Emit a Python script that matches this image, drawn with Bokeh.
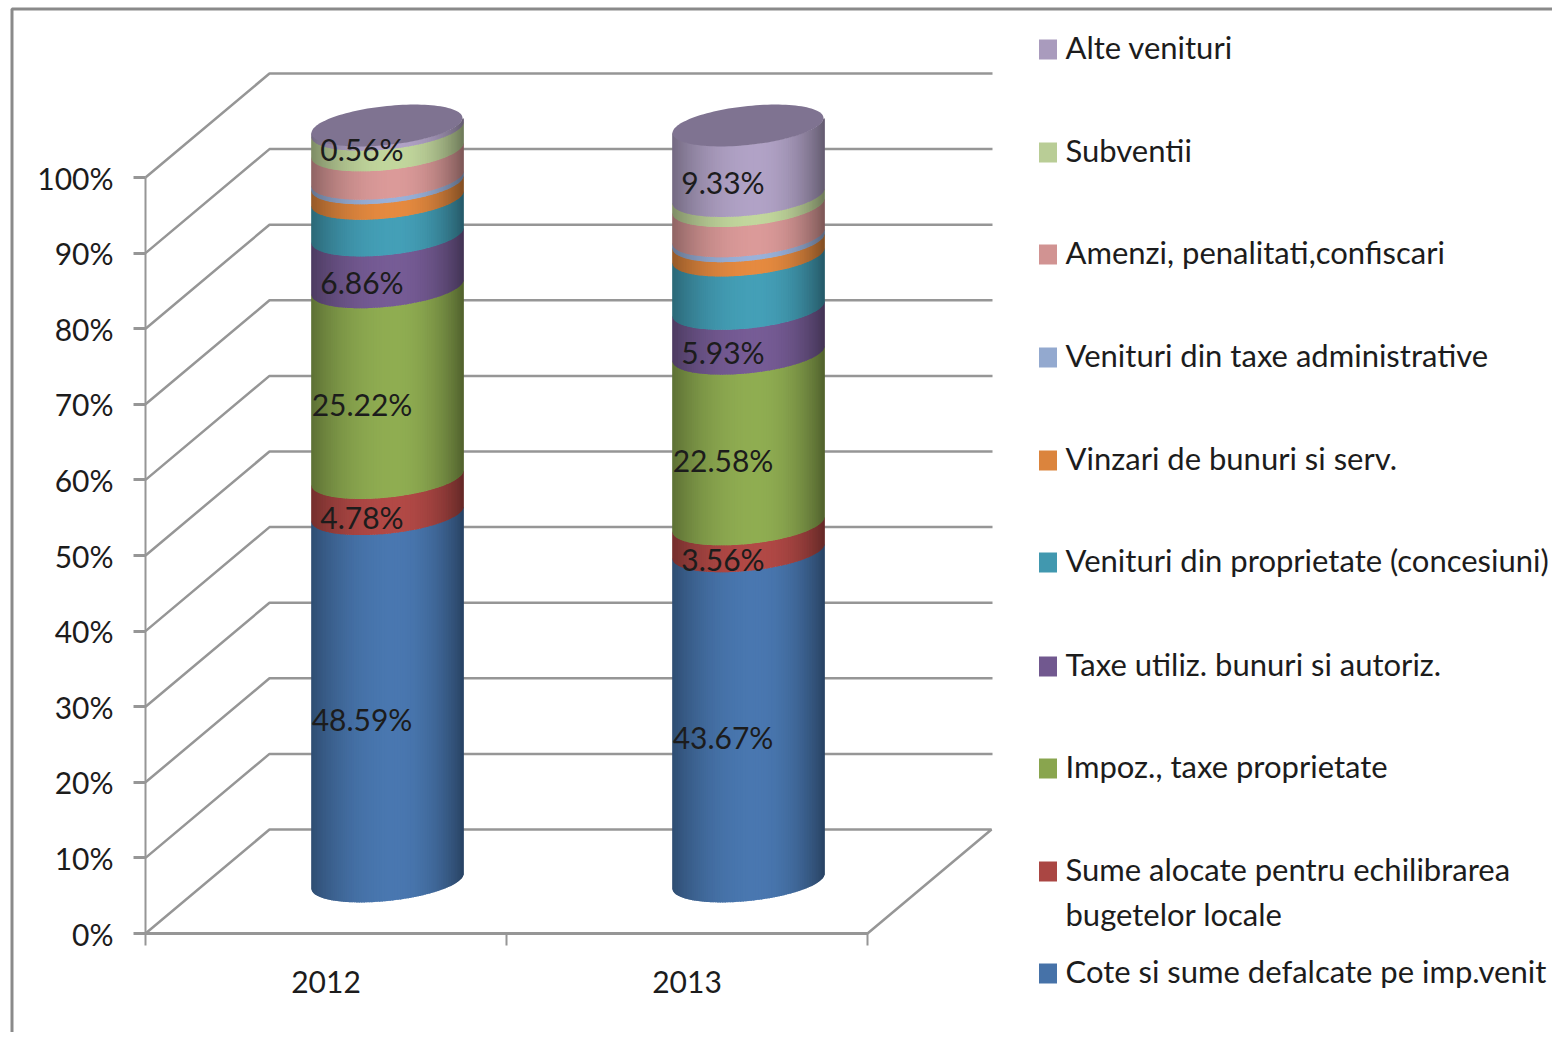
from bokeh.plotting import figure
from bokeh.models import Range1d, LinearAxis, FixedTicker, ColumnDataSource
from bokeh.core.properties import value
from bokeh.embed import file_html
from bokeh.resources import INLINE
import math

years = ["2012", "2013"]
series = ["Cote si sume defalcate pe imp.venit",
          "Sume alocate  pentru echilibrarea\nbugetelor locale",
          "Impoz., taxe proprietate",
          "Taxe utiliz. bunuri si autoriz.",
          "Venituri din proprietate (concesiuni)",
          "Vinzari de bunuri si serv.",
          "Venituri din taxe administrative",
          "Amenzi, penalitati,confiscari",
          "Subventii",
          "Alte venituri"]
values_2012 = [48.59, 4.78, 25.22, 6.86, 4.85, 2.05, 0.60, 3.75, 2.74, 0.56]
values_2013 = [43.67, 3.56, 22.58, 5.93, 7.05, 1.90, 0.65, 4.00, 1.33, 9.33]
labelled = [0, 1, 2, 3, 9]
colors = ["#4672A8", "#AA4643", "#89A54E", "#71588F", "#4198AF",
          "#DB843D", "#93A9CF", "#D19392", "#B9CD96", "#A99BBD"]
cap_color = "#7F7391"
y_ticks = [0, 10, 20, 30, 40, 50, 60, 70, 80, 90, 100]
x_edges = [0, 1, 2]

# layout in pixels of the photographed figure
W, H = 1552, 1032
X0_PX, Y0_PX = 145, 933
PX_X = 361.0      # pixels per category
PX_Y = 7.56       # pixels per percentage point
DEPTH_X = 124 / PX_X
DEPTH_Y = 104 / PX_Y
RADIUS = 75.5
MINOR = 19.5
SHEAR = 0.10
GRID = "#969696"
FONT = "Lato"
TEXT = "#1c1c1c"

def xd(px):
    return (px - X0_PX) / PX_X

def yd(py):
    return (Y0_PX - py) / PX_Y

p = figure(width=W, height=H, output_backend="svg", toolbar_location=None,
           x_axis_type=None, y_axis_type=None,
           x_range=Range1d(xd(0), xd(W)),
           y_range=Range1d(yd(H), yd(0)),
           min_border=0, outline_line_color=None, background_fill_color="white")
p.grid.visible = False

# chart area border
p.line([xd(11.5), xd(11.5), xd(1560)], [yd(1040), yd(8.5), yd(8.5)],
       line_color="#8a8a8a", line_width=3)

# walls and floor
for v in y_ticks:
    xs = [0, DEPTH_X, 2 + DEPTH_X]
    ys = [v, v + DEPTH_Y, v + DEPTH_Y]
    if v == 0:
        xs += [2, 0]
        ys += [0, 0]
    else:
        xs[-1] += xd(991) - xd(990)
    p.line(xs, ys, line_color=GRID, line_width=2.5)


def shade(hex_color, u):
    edge = 0.36 if u < 0.1 else 0.44
    f = 1.05 - edge * (abs(u - 0.1) / (1.1 if u < 0.1 else 0.9)) ** 2.1
    rgb = [int(hex_color[i:i + 2], 16) for i in (1, 3, 5)]
    return "#%02x%02x%02x" % tuple(min(255, int(c * f)) for c in rgb)


def curve(u):
    # front rim of the cylinder, offsets in data units
    return (RADIUS * u / PX_X,
            (SHEAR * RADIUS * u - MINOR * math.sqrt(max(0, 1 - u * u))) / PX_Y)


N = 90
OVER_X = 1.2 / PX_X
OVER_Y = 0.5 / PX_Y
sx, sy, sc = [], [], []
lx, ly, lt = [], [], []
caps = []
for i, vals in enumerate([values_2012, values_2013]):
    cx = i + 0.5 + DEPTH_X / 2 - 1 / PX_X
    base = 0.0
    for k, v in enumerate(vals):
        cy0 = base + DEPTH_Y / 2
        cy1 = base + v + DEPTH_Y / 2 + OVER_Y
        for s in range(N):
            u0 = -math.cos(math.pi * s / N)
            u1 = -math.cos(math.pi * (s + 1) / N)
            x0, o0 = curve(u0)
            x1, o1 = curve(u1)
            ext = OVER_X if s < N - 1 else 0
            sx.append([cx + x0, cx + x1 + ext, cx + x1 + ext, cx + x0])
            sy.append([cy0 + o0, cy0 + o1, cy1 + o1, cy1 + o0])
            sc.append(shade(colors[k], (u0 + u1) / 2))
        if k in labelled:
            lx.append(cx + xd(X0_PX - 25))
            ly.append(base + v / 2 + DEPTH_Y / 2 + yd(Y0_PX + 21))
            lt.append(f"{v:.2f}%")
        base += v
    caps.append((cx, base))

p.patches("xs", "ys", source=ColumnDataSource(dict(xs=sx, ys=sy, c=sc)),
          fill_color="c", line_color=None)

for cx, top in caps:
    angles = [math.pi * 2 * j / 120 for j in range(120)]
    p.patch([cx + RADIUS * math.cos(t) / PX_X for t in angles],
            [top + DEPTH_Y / 2 + (SHEAR * RADIUS * math.cos(t) + MINOR * math.sin(t)) / PX_Y for t in angles],
            fill_color=cap_color, line_color=None)

p.text(lx, ly, text=lt, text_font=value(FONT), text_font_size="30px",
       text_align="center", text_baseline="middle", text_color=TEXT)

# axes
yaxis = LinearAxis(fixed_location=0, ticker=FixedTicker(ticks=y_ticks), bounds=(0, 100),
                   major_label_overrides={v: f"{v}%" for v in y_ticks},
                   axis_line_color=GRID, axis_line_width=2,
                   major_tick_line_color=GRID, major_tick_line_width=3,
                   major_tick_out=12, major_tick_in=0, minor_tick_out=0,
                   major_label_standoff=20, major_label_text_font=FONT,
                   major_label_text_font_size="30px", major_label_text_color=TEXT)
p.add_layout(yaxis, "left")
xaxis = LinearAxis(fixed_location=0, bounds=(0, 2),
                   ticker=FixedTicker(ticks=[e + 0.5 for e in x_edges[:-1]], minor_ticks=x_edges),
                   major_label_overrides={e + 0.5: y for e, y in zip(x_edges, years)},
                   axis_line_color=GRID, axis_line_width=3,
                   major_tick_out=0, major_tick_in=0,
                   minor_tick_out=12, minor_tick_in=0,
                   minor_tick_line_color=GRID, minor_tick_line_width=2,
                   major_label_standoff=25, major_label_text_font=FONT,
                   major_label_text_font_size="30px", major_label_text_color=TEXT)
p.add_layout(xaxis, "below")

# legend (top to bottom = reversed series)
legend_rows = [46, 149, 251, 354, 457, 559, 663, 765, 868, 970]
LEG_FONT = "31px"
for name, col, row in zip(reversed(series), reversed(colors), legend_rows):
    p.rect([xd(1047.5)], [yd(row + 3)], width=18, height=20,
           width_units="screen", height_units="screen",
           fill_color=col, line_color=None)
    for j, line in enumerate(name.split("\n")):
        p.text([xd(1065)], [yd(row + j * 45)], text=[line], text_font=value(FONT),
               text_font_size=LEG_FONT, text_align="left", text_baseline="middle",
               text_color=TEXT)

open("out.html", "w").write(file_html(p, INLINE))
